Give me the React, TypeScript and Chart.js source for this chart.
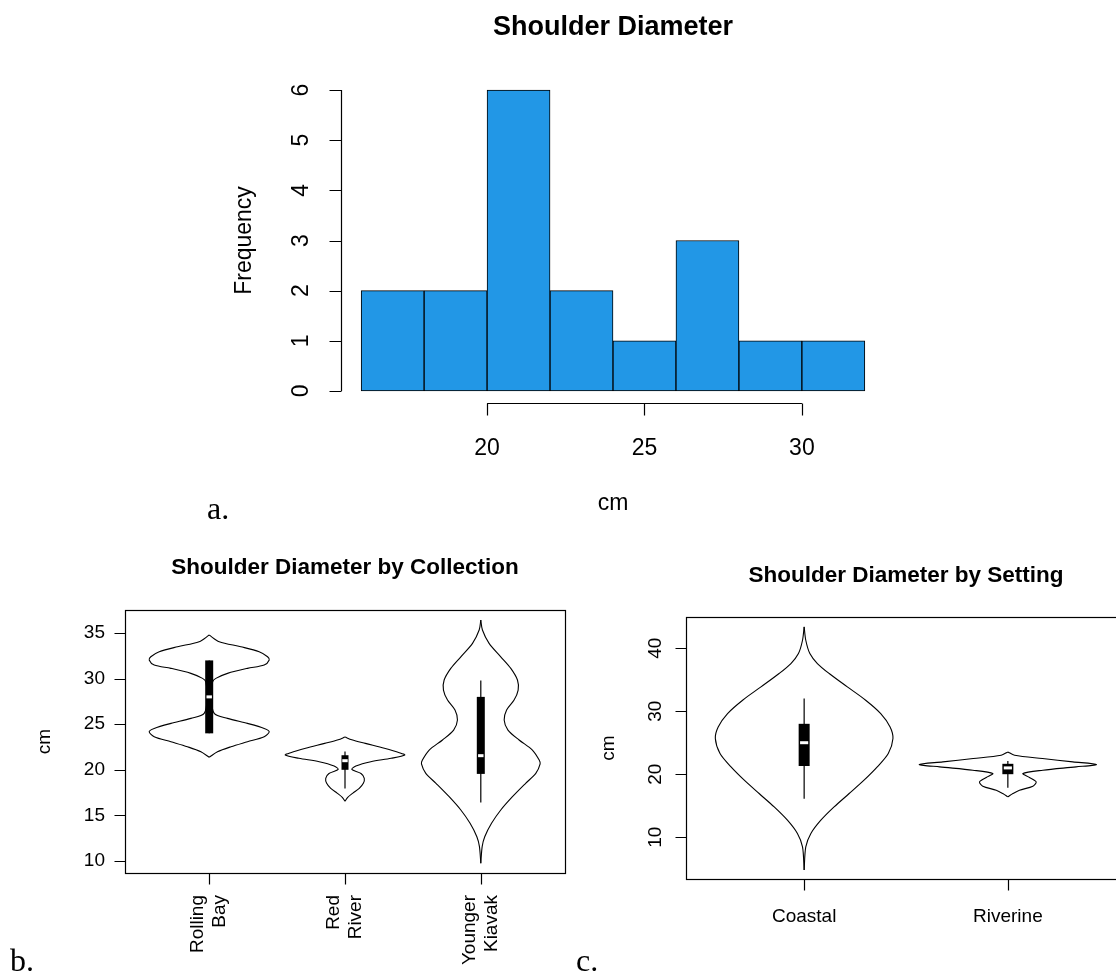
import React, { useEffect, useRef } from "react";
import { Chart, registerables } from "chart.js";

Chart.register(...registerables);

const SANS = '"Liberation Sans", Arial, Helvetica, sans-serif';
const SERIF = '"Liberation Serif", "Times New Roman", serif';

// ---------- Panel a: histogram ----------
const histTitle = "Shoulder Diameter";
const histBinEdges = [16, 18, 20, 22, 24, 26, 28, 30, 32];
const histFrequencies = [2, 2, 6, 2, 1, 3, 1, 1];
const histXTicks = [20, 25, 30];
const histYTicks = [0, 1, 2, 3, 4, 5, 6];
const histXLabel = "cm";
const histYLabel = "Frequency";

// ---------- Panel b: by collection ----------
const collTitle = "Shoulder Diameter by Collection";
const collNames = [["Rolling", "Bay"], ["Red", "River"], ["Younger", "Kiavak"]];
const collYTicks = [10, 15, 20, 25, 30, 35];

const rollingBayLevels = [21.37, 21.98, 22.53, 23.08, 23.63, 24.18, 24.54, 25.09, 25.64, 26.19, 28.0, 29.66, 30.03, 30.58, 31.13, 31.49, 32.04, 32.4, 32.95, 33.5, 34.05, 34.78];
const rollingBayWidths = [0, 0.061, 0.16, 0.282, 0.405, 0.442, 0.405, 0.282, 0.135, 0.037, 0.015, 0.025, 0.049, 0.135, 0.282, 0.405, 0.442, 0.43, 0.368, 0.233, 0.074, 0];
const rollingBayStats = [24.0, 24.0, 28.0, 32.0, 32.0]; // min, q1, median, q3, max

const redRiverLevels = [16.55, 16.98, 17.42, 17.97, 18.52, 19.07, 19.6, 20.05, 20.42, 20.89, 21.26, 21.62, 21.88, 22.36, 22.9, 23.3, 23.6];
const redRiverWidths = [0, 0.02, 0.056, 0.105, 0.135, 0.142, 0.118, 0.05, 0.08, 0.19, 0.34, 0.44, 0.4, 0.29, 0.15, 0.05, 0];
const redRiverStats = [17.95, 20.0, 21.0, 21.6, 22.0];

const youngerKiavakLevels = [9.75, 11.57, 12.66, 14.13, 15.59, 17.05, 18.52, 19.61, 20.64, 21.07, 22.17, 23.27, 24.36, 25.46, 26.56, 27.65, 28.75, 29.85, 31.13, 32.4, 33.87, 35.33, 36.43];
const youngerKiavakWidths = [0, 0.01, 0.029, 0.079, 0.147, 0.233, 0.33, 0.405, 0.437, 0.43, 0.38, 0.282, 0.2, 0.172, 0.19, 0.245, 0.275, 0.27, 0.221, 0.147, 0.061, 0.012, 0];
const youngerKiavakStats = [16.4, 19.55, 21.55, 28.0, 29.8];

// ---------- Panel c: by setting ----------
const setTitle = "Shoulder Diameter by Setting";
const setNames = ["Coastal", "Riverine"];
const setYTicks = [10, 20, 30, 40];

const coastalLevels = [4.8, 8.46, 10.59, 12.7, 14.81, 16.93, 19.05, 21.16, 23.28, 25.66, 27.51, 29.63, 31.75, 33.86, 35.98, 37.57, 39.15, 41.27, 43.4];
const coastalWidths = [0, 0.008, 0.033, 0.082, 0.147, 0.221, 0.294, 0.359, 0.413, 0.436, 0.422, 0.376, 0.302, 0.212, 0.123, 0.065, 0.028, 0.008, 0];
const coastalStats = [16.1, 21.3, 25.0, 28.0, 32.0];

const riverineLevels = [16.4, 16.93, 17.46, 18.1, 18.78, 19.47, 20.1, 20.63, 21.16, 21.54, 21.96, 22.49, 23.02, 23.54];
const riverineWidths = [0, 0.025, 0.057, 0.123, 0.139, 0.106, 0.074, 0.172, 0.335, 0.435, 0.319, 0.17, 0.033, 0];
const riverineStats = [17.85, 20.0, 21.0, 21.65, 22.1];

function violinDatasets(pos: number, levels: number[], widths: number[], stats: number[], boxPx: number) {
  const base = { showLine: true, pointRadius: 0, pointHoverRadius: 0, fill: false };
  return [
    { ...base, data: levels.map((v, i) => ({ x: pos + widths[i], y: v })), borderColor: "#000", borderWidth: 1.1, tension: 0.3, order: 3 },
    { ...base, data: levels.map((v, i) => ({ x: pos - widths[i], y: v })), borderColor: "#000", borderWidth: 1.1, tension: 0.3, order: 3 },
    { ...base, data: [{ x: pos, y: stats[0] }, { x: pos, y: stats[4] }], borderColor: "#000", borderWidth: 1.2, order: 2 },
    { ...base, data: [{ x: pos, y: stats[1] }, { x: pos, y: stats[3] }], borderColor: "#000", borderWidth: boxPx, borderCapStyle: "butt", order: 1 },
    { ...base, data: [{ x: pos - 0.02, y: stats[2] }, { x: pos + 0.02, y: stats[2] }], borderColor: "#fff", borderWidth: 3, borderCapStyle: "butt", order: 0 },
  ];
}

function hiddenLinear(min: number, max: number) {
  return { type: "linear", min, max, display: false, offset: false, grid: { display: false } } as any;
}

const histPlugin = {
  id: "histAxes",
  afterDraw(chart: any) {
    const { ctx, chartArea: a, scales } = chart;
    const x = scales.x, y = scales.y;
    ctx.save();
    ctx.strokeStyle = "#000";
    ctx.fillStyle = "#000";
    ctx.lineWidth = 1.2;
    const lx = Math.round(a.left) + 0.5;
    const by = Math.round(a.bottom) + 0.5;
    ctx.beginPath();
    ctx.moveTo(lx, y.getPixelForValue(histYTicks[0]));
    ctx.lineTo(lx, y.getPixelForValue(histYTicks[histYTicks.length - 1]));
    histYTicks.forEach((t) => {
      const p = Math.round(y.getPixelForValue(t)) + 0.5;
      ctx.moveTo(lx, p);
      ctx.lineTo(lx - 12, p);
    });
    ctx.moveTo(x.getPixelForValue(histXTicks[0]), by);
    ctx.lineTo(x.getPixelForValue(histXTicks[histXTicks.length - 1]), by);
    histXTicks.forEach((t) => {
      const p = Math.round(x.getPixelForValue(t)) + 0.5;
      ctx.moveTo(p, by);
      ctx.lineTo(p, by + 12);
    });
    ctx.stroke();

    ctx.font = `23px ${SANS}`;
    ctx.textAlign = "center";
    ctx.textBaseline = "alphabetic";
    histXTicks.forEach((t) => ctx.fillText(String(t), x.getPixelForValue(t), a.bottom + 52));
    histYTicks.forEach((t) => {
      ctx.save();
      ctx.translate(a.left - 33, y.getPixelForValue(t));
      ctx.rotate(-Math.PI / 2);
      ctx.fillText(String(t), 0, 0);
      ctx.restore();
    });
    const cx = (a.left + a.right) / 2;
    ctx.fillText(histXLabel, cx, a.bottom + 107);
    ctx.save();
    ctx.translate(a.left - 96, (a.top + a.bottom) / 2);
    ctx.rotate(-Math.PI / 2);
    ctx.textBaseline = "middle";
    ctx.fillText(histYLabel, 0, 0);
    ctx.restore();

    ctx.font = `bold 27px ${SANS}`;
    ctx.fillText(histTitle, cx, a.top - 43);
    ctx.restore();
  },
};

const collPlugin = {
  id: "collAxes",
  afterDraw(chart: any) {
    const { ctx, chartArea: a, scales } = chart;
    const x = scales.x, y = scales.y;
    ctx.save();
    ctx.strokeStyle = "#000";
    ctx.fillStyle = "#000";
    ctx.lineWidth = 1.2;
    const l = Math.round(a.left) + 0.5, r = Math.round(a.right) + 0.5;
    const t = Math.round(a.top) + 0.5, b = Math.round(a.bottom) + 0.5;
    ctx.strokeRect(l, t, r - l, b - t);
    ctx.beginPath();
    collYTicks.forEach((v) => {
      const p = Math.round(y.getPixelForValue(v)) + 0.5;
      ctx.moveTo(l, p);
      ctx.lineTo(l - 11, p);
    });
    collNames.forEach((_, i) => {
      const p = Math.round(x.getPixelForValue(i + 1)) + 0.5;
      ctx.moveTo(p, b);
      ctx.lineTo(p, b + 11);
    });
    ctx.stroke();

    ctx.font = `19px ${SANS}`;
    ctx.textAlign = "right";
    ctx.textBaseline = "middle";
    collYTicks.forEach((v) => ctx.fillText(String(v), a.left - 20, y.getPixelForValue(v)));
    collNames.forEach((lines, i) => {
      const p = x.getPixelForValue(i + 1);
      lines.forEach((s, j) => {
        ctx.save();
        ctx.translate(p + (j - (lines.length - 1) / 2) * 22, a.bottom + 22);
        ctx.rotate(-Math.PI / 2);
        ctx.fillText(s, 0, 0);
        ctx.restore();
      });
    });
    ctx.textAlign = "center";
    ctx.save();
    ctx.translate(a.left - 80, (a.top + a.bottom) / 2);
    ctx.rotate(-Math.PI / 2);
    ctx.fillText("cm", 0, 0);
    ctx.restore();
    ctx.textBaseline = "alphabetic";
    ctx.font = `bold 22.5px ${SANS}`;
    ctx.fillText(collTitle, (a.left + a.right) / 2, a.top - 36);
    ctx.restore();
  },
};

const setPlugin = {
  id: "setAxes",
  afterDraw(chart: any) {
    const { ctx, chartArea: a, scales } = chart;
    const x = scales.x, y = scales.y;
    ctx.save();
    ctx.strokeStyle = "#000";
    ctx.fillStyle = "#000";
    ctx.lineWidth = 1.2;
    const l = Math.round(a.left) + 0.5, r = Math.round(a.right) + 0.5;
    const t = Math.round(a.top) + 0.5, b = Math.round(a.bottom) + 0.5;
    ctx.strokeRect(l, t, r - l, b - t);
    ctx.beginPath();
    setYTicks.forEach((v) => {
      const p = Math.round(y.getPixelForValue(v)) + 0.5;
      ctx.moveTo(l, p);
      ctx.lineTo(l - 11, p);
    });
    setNames.forEach((_, i) => {
      const p = Math.round(x.getPixelForValue(i + 1)) + 0.5;
      ctx.moveTo(p, b);
      ctx.lineTo(p, b + 11);
    });
    ctx.stroke();

    ctx.font = `19px ${SANS}`;
    ctx.textAlign = "center";
    ctx.textBaseline = "alphabetic";
    setYTicks.forEach((v) => {
      ctx.save();
      ctx.translate(a.left - 25, y.getPixelForValue(v));
      ctx.rotate(-Math.PI / 2);
      ctx.fillText(String(v), 0, 0);
      ctx.restore();
    });
    setNames.forEach((s, i) => ctx.fillText(s, x.getPixelForValue(i + 1), a.bottom + 43));
    ctx.save();
    ctx.translate(a.left - 77, (a.top + a.bottom) / 2);
    ctx.rotate(-Math.PI / 2);
    ctx.textBaseline = "middle";
    ctx.fillText("cm", 0, 0);
    ctx.restore();
    ctx.font = `bold 22.5px ${SANS}`;
    ctx.fillText(setTitle, (a.left + a.right) / 2, a.top - 35);
    ctx.restore();
  },
};

const common = {
  responsive: false,
  animation: false as const,
  events: [] as any[],
  plugins: { legend: { display: false }, tooltip: { enabled: false }, title: { display: false } },
};

export default function App() {
  const refA = useRef<HTMLCanvasElement>(null);
  const refB = useRef<HTMLCanvasElement>(null);
  const refC = useRef<HTMLCanvasElement>(null);

  useEffect(() => {
    const charts: Chart[] = [];
    const mids = histFrequencies.map((_, i) => (histBinEdges[i] + histBinEdges[i + 1]) / 2);
    charts.push(
      new Chart(refA.current!, {
        type: "bar",
        data: {
          datasets: [
            {
              data: histFrequencies.map((f, i) => ({ x: mids[i], y: f })),
              backgroundColor: "#2297E6",
              borderColor: "#000",
              borderWidth: 1,
              borderSkipped: false,
              barPercentage: 1,
              categoryPercentage: 1,
            } as any,
          ],
        },
        options: {
          ...common,
          layout: { padding: { left: 341, right: 231, top: 78, bottom: 137 } },
          scales: { x: hiddenLinear(15.36, 32.64), y: hiddenLinear(-0.24, 6.24) },
        } as any,
        plugins: [histPlugin],
      })
    );

    charts.push(
      new Chart(refB.current!, {
        type: "scatter",
        data: {
          datasets: [
            ...violinDatasets(1, rollingBayLevels, rollingBayWidths, rollingBayStats, 8),
            ...violinDatasets(2, redRiverLevels, redRiverWidths, redRiverStats, 7),
            ...violinDatasets(3, youngerKiavakLevels, youngerKiavakWidths, youngerKiavakStats, 8),
          ] as any,
        },
        options: {
          ...common,
          layout: { padding: { left: 125, right: 15, top: 70, bottom: 99 } },
          scales: { x: hiddenLinear(0.38, 3.62), y: hiddenLinear(8.68, 37.53) },
        } as any,
        plugins: [collPlugin],
      })
    );

    charts.push(
      new Chart(refC.current!, {
        type: "scatter",
        data: {
          datasets: [
            ...violinDatasets(1, coastalLevels, coastalWidths, coastalStats, 11),
            ...violinDatasets(2, riverineLevels, riverineWidths, riverineStats, 11),
          ] as any,
        },
        options: {
          ...common,
          layout: { padding: { left: 106, right: 14, top: 77, bottom: 93 } },
          scales: { x: hiddenLinear(0.42, 2.58), y: hiddenLinear(3.36, 44.96) },
        } as any,
        plugins: [setPlugin],
      })
    );

    return () => charts.forEach((c) => c.destroy());
  }, []);

  const panelLabel: React.CSSProperties = {
    position: "absolute",
    font: `32px ${SERIF}`,
    lineHeight: "32px",
    color: "#000",
    whiteSpace: "nowrap",
  };

  return (
    <div style={{ position: "absolute", left: 0, top: 0, width: 1116, height: 972, overflow: "hidden", background: "#fff" }}>
      <canvas ref={refA} width={1116} height={540} style={{ position: "absolute", left: 0, top: 0 }} />
      <canvas ref={refB} width={580} height={432} style={{ position: "absolute", left: 0, top: 540 }} />
      <canvas ref={refC} width={560} height={432} style={{ position: "absolute", left: 580, top: 540 }} />
      <span style={{ ...panelLabel, left: 207, top: 492 }}>a.</span>
      <span style={{ ...panelLabel, left: 10, top: 944 }}>b.</span>
      <span style={{ ...panelLabel, left: 576, top: 944 }}>c.</span>
    </div>
  );
}
